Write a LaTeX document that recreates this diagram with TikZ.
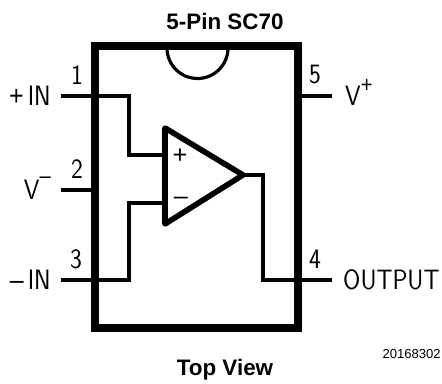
\documentclass[tikz,border=0pt]{standalone}
\usepackage{fontspec}
\setmainfont{Liberation Sans}
\tikzset{
	pinlabel/.style={inner sep=0pt,font=\sffamily\fontsize{21}{21}\selectfont,xscale=.89,transform shape},
	pinnum/.style={inner sep=0pt,font=\sffamily\fontsize{21}{21}\selectfont,xscale=.9,transform shape},
	ampsign/.style={inner sep=0pt,font=\rmfamily\fontsize{19}{19}\selectfont},
	caption/.style={inner sep=0pt,font=\bfseries\fontsize{16.8}{18}\selectfont},
	pinwire/.style={line width=3.6pt},
	boxwire/.style={line width=5.4pt,line cap=rect}
}
\newcommand{\signP}{{\rmfamily+}}
\newcommand{\signM}{{\rmfamily\char"2013}}
\newcommand{\supP}{\smash{\raisebox{10pt}{\rmfamily\fontsize{17}{17}\selectfont+}}}
\newcommand{\supM}{\smash{\raisebox{12pt}{\rmfamily\fontsize{17}{17}\selectfont\char"2013}}}
\begin{document}
\begin{tikzpicture}[x=.75pt,y=-.75pt]
	\useasboundingbox (0,0) rectangle (442,384);
%	Package outline :
	\coordinate (nw) at (95,46);
	\coordinate (se) at (298,328);
	\draw[boxwire] (nw) rectangle (se);
	\draw[line width=2.4pt] (167,48) arc[start angle=180,end angle=0,radius=30.5];
%	Pins :
	\coordinate (pinA) at (61,96);
	\coordinate (pinB) at (61,190);
	\coordinate (pinC) at (61,280);
	\coordinate (pinD) at (332,280);
	\coordinate (pinE) at (332,96);
	\coordinate (edgeB) at (95,190);
	\coordinate (edgeE) at (298,96);
	\draw[pinwire] (pinB) -- (edgeB);
	\draw[pinwire] (pinE) -- (edgeE);
%	Amplifier :
	\coordinate (ampTop) at (165,128);
	\coordinate (ampBot) at (165,224);
	\coordinate (ampOut) at (243,175);
	\coordinate (ampP) at (165,155);
	\coordinate (ampM) at (165,203);
	\draw[line join=round,line width=4.2pt] (ampTop) -- (ampOut) -- (ampBot) -- cycle;
%	Wires to the amplifier :
	\draw[pinwire] (pinA) -| (129,155) -- (ampP);
	\draw[pinwire] (pinC) -| (129,203) -- (ampM);
	\draw[pinwire] (ampOut) -| (263,280) -- (pinD);
	\node[ampsign] (plus) at (180,156) {+};
	\node[ampsign] (minus) at (181,201) {\char"2013};
%	Labels :
	\node[pinnum] (numA) at (77,75) {1};
	\node[pinnum] (numB) at (77,169) {2};
	\node[pinnum] (numC) at (76,259) {3};
	\node[pinnum] (numD) at (315,259) {4};
	\node[pinnum] (numE) at (315,75) {5};
	\node[pinlabel,anchor=east] (lblA) at (51,96) {\signP\,IN};
	\node[pinlabel,anchor=east] (lblB) at (51,190) {V\supM};
	\node[pinlabel,anchor=east] (lblC) at (51,280) {\signM\,IN};
	\node[pinlabel,anchor=west] (lblD) at (343,280) {OUTPUT};
	\node[pinlabel,anchor=west] (lblE) at (345,96) {V\supP};
	\node[caption] (title) at (225,21) {5-Pin SC70};
	\node[caption] (view) at (225,370) {Top View};
	\node[inner sep=0pt,font=\fontsize{9.8}{10}\selectfont,anchor=east] (code) at (441,354) {20168302};
\end{tikzpicture}
\end{document}
